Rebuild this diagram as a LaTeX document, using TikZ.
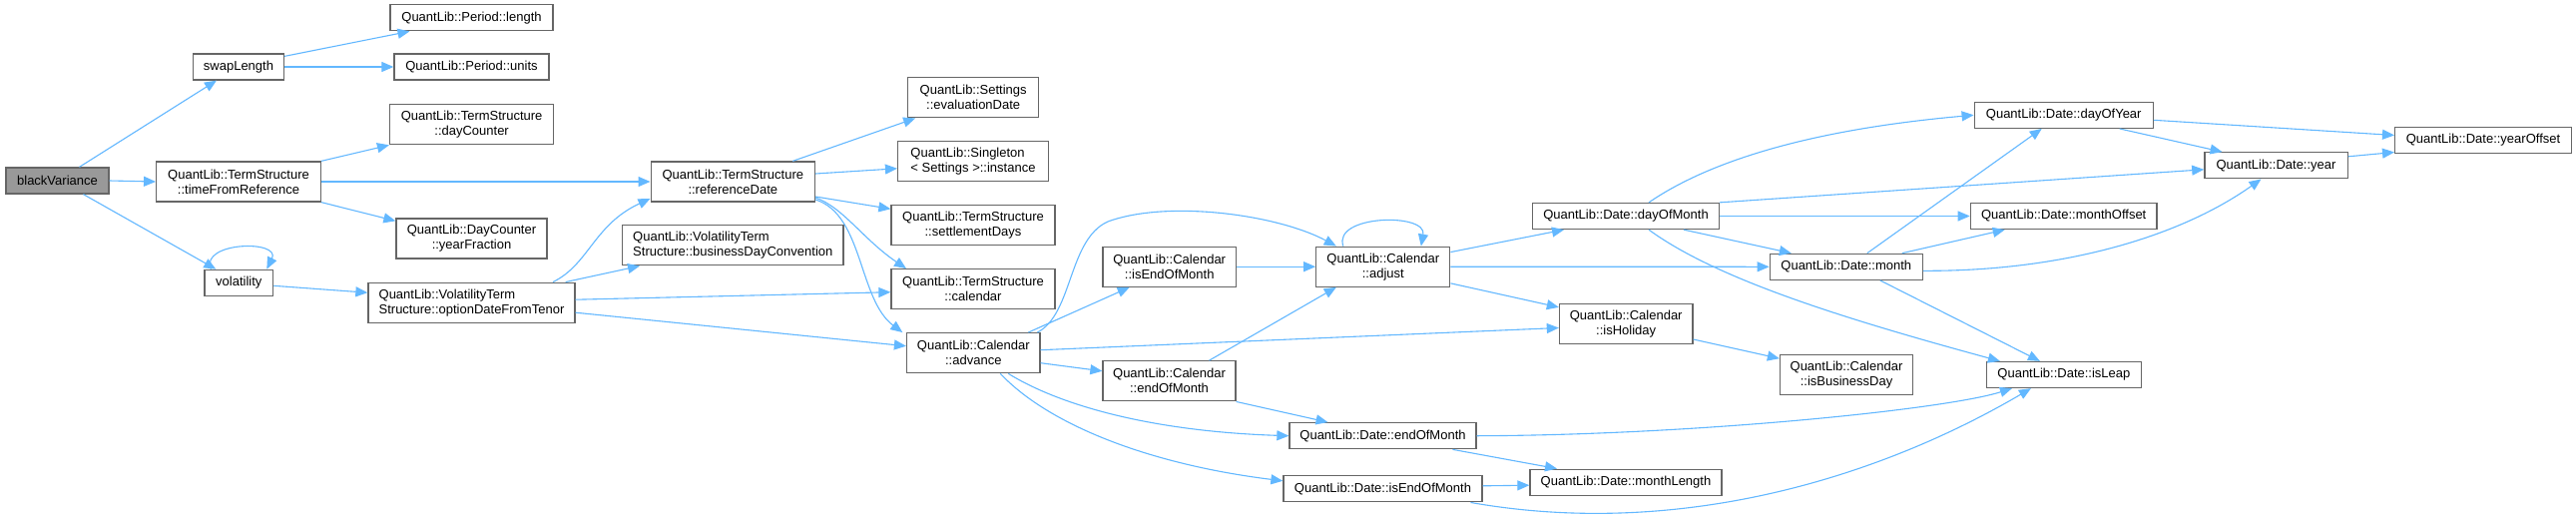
\documentclass[tikz,border=0pt]{standalone}
\usepackage{fontspec}
\setmainfont{Liberation Sans}
\usetikzlibrary{arrows.meta}
\definecolor{edgec}{HTML}{63B8FF}
\definecolor{bordc}{HTML}{666666}
\definecolor{rootc}{HTML}{999999}
\begin{document}
\begin{tikzpicture}[x=1pt,y=-1pt,
  box/.style={draw=bordc, line width=1.3pt, fill=white, inner sep=0pt, align=center,
    font=\fontsize{13}{15}\selectfont, text=black},
  one/.style={minimum height=26pt},
  two/.style={minimum height=40pt},
  e/.style={draw=edgec, line width=1.1pt, -{Triangle[length=12pt,width=10pt]}}]
\useasboundingbox[fill=white] (0,0) rectangle (2581,523);
% nodes
\node[box,one,minimum width=103pt,fill=rootc] (bv) at (57.5,181) {blackVariance};
\node[box,one,minimum width=91pt] (swap) at (239,67) {swapLength};
\node[box,one,minimum width=163pt] (plen) at (472.5,17.7) {QuantLib::Period::length};
\node[box,one,minimum width=155pt] (punits) at (472.5,67) {QuantLib::Period::units};
\node[box,two,minimum width=164pt] (dcount) at (472.6,124.7) {QuantLib::TermStructure\\::dayCounter};
\node[box,two,minimum width=164.6pt] (tfr) at (239,182) {QuantLib::TermStructure\\::timeFromReference};
\node[box,two,minimum width=151pt] (yfrac) at (472.5,239) {QuantLib::DayCounter\\::yearFraction};
\node[box,one,minimum width=68.6pt] (vol) at (239.3,283.3) {volatility};
\node[box,two,minimum width=207pt,align=left] (odft) at (472.5,303.2) {QuantLib::VolatilityTerm\\Structure::optionDateFromTenor};
\node[box,two,minimum width=164.3pt] (refd) at (734.3,182) {QuantLib::TermStructure\\::referenceDate};
\node[box,two,minimum width=221.3pt,align=left] (bdc) at (734.3,245.8) {QuantLib::VolatilityTerm\\Structure::businessDayConvention};
\node[box,two,minimum width=130.8pt] (evald) at (975.2,97.8) {QuantLib::Settings\\::evaluationDate};
\node[box,two,minimum width=150.8pt,align=left] (inst) at (975,161.8) {QuantLib::Singleton\\< Settings >::instance};
\node[box,two,minimum width=164pt] (sdays) at (975,225.8) {QuantLib::TermStructure\\::settlementDays};
\node[box,two,minimum width=164pt] (cal) at (975,289.7) {QuantLib::TermStructure\\::calendar};
\node[box,two,minimum width=133.5pt] (adv) at (975.3,353.7) {QuantLib::Calendar\\::advance};
\node[box,two,minimum width=133.4pt] (ieom) at (1171.7,267.2) {QuantLib::Calendar\\::isEndOfMonth};
\node[box,two,minimum width=133pt] (ceom) at (1171.5,381.8) {QuantLib::Calendar\\::endOfMonth};
\node[box,two,minimum width=134pt] (adj) at (1385.8,267.2) {QuantLib::Calendar\\::adjust};
\node[box,one,minimum width=186.6pt] (dom) at (1629,216.5) {QuantLib::Date::dayOfMonth};
\node[box,two,minimum width=133.5pt] (hol) at (1629.2,324.5) {QuantLib::Calendar\\::isHoliday};
\node[box,one,minimum width=187pt] (deom) at (1385.5,436.7) {QuantLib::Date::endOfMonth};
\node[box,one,minimum width=199pt] (disEom) at (1385.5,489.8) {QuantLib::Date::isEndOfMonth};
\node[box,one,minimum width=192pt] (mlen) at (1629,483.2) {QuantLib::Date::monthLength};
\node[box,one,minimum width=153pt] (month) at (1849.8,267.3) {QuantLib::Date::month};
\node[box,two,minimum width=133pt] (bday) at (1850,375.2) {QuantLib::Calendar\\::isBusinessDay};
\node[box,one,minimum width=179pt] (doy) at (2067.7,115.3) {QuantLib::Date::dayOfYear};
\node[box,one,minimum width=186.7pt] (moff) at (2067.7,216.5) {QuantLib::Date::monthOffset};
\node[box,one,minimum width=155pt] (leap) at (2067.9,375.5) {QuantLib::Date::isLeap};
\node[box,one,minimum width=143.3pt] (year) at (2280.5,165.8) {QuantLib::Date::year};
\node[box,one,minimum width=176.7pt] (yoff) at (2488,140.5) {QuantLib::Date::yearOffset};
% edges
\draw[e] ([xshift=22pt]bv.north) -- ([xshift=-22pt]swap.south);
\draw[e] (bv.east) -- (tfr.west);
\draw[e] ([xshift=26pt]bv.south) -- ([xshift=-23pt]vol.north);
\draw[e] ([yshift=-3pt]swap.north east) -- ([xshift=-62pt]plen.south);
\draw[e] (swap.east) -- (punits.west);
\draw[e] (tfr.north east) -- (dcount.south west);
\draw[e] (tfr.east) -- (refd.west);
\draw[e] (tfr.south east) -- ([yshift=-3pt]yfrac.north west);
\draw[e] ([xshift=-28pt]vol.north) .. controls (200,242) and (282,240) .. ([xshift=28pt]vol.north);
\draw[e] ([yshift=-3pt]vol.east) -- ([yshift=10pt]odft.west);
\draw[e] ([xshift=81.5pt]odft.north) .. controls (590,265) and (595,225) .. ([yshift=-17pt]refd.west);
\draw[e] ([xshift=-10pt]odft.north east) -- ([xshift=18pt]bdc.south west);
\draw[e] ([yshift=3pt]odft.east) -- ([yshift=-3pt]cal.west);
\draw[e] ([yshift=-10pt]odft.east) -- ([yshift=7pt]adv.west);
\draw[e] ([xshift=60pt]refd.north) -- ([xshift=8pt]evald.south west);
\draw[e] ([yshift=8pt]refd.east) -- ([yshift=-7pt]inst.west);
\draw[e] ([yshift=-15pt]refd.east) -- ([yshift=16.5pt]sdays.west);
\draw[e] ([yshift=-16pt]refd.east) .. controls (845,208) and (865,240) .. ([xshift=-67pt]cal.north);
\draw[e] ([yshift=-18pt]refd.east) .. controls (865,215) and (860,300) .. ([xshift=-71pt]adv.north);
\draw[e] ([xshift=55pt]adv.north) -- ([xshift=-40pt]ieom.south);
\draw[e] ([xshift=64pt]adv.north) .. controls (1075,315) and (1070,240) .. (1110,222) .. controls (1170,200) and (1280,215) .. ([xshift=-47pt]adj.north);
\draw[e] ([yshift=3pt]adv.east) -- ([yshift=-4pt]hol.west);
\draw[e] ([yshift=-10pt]adv.east) -- ([yshift=10pt]ceom.west);
\draw[e] ([xshift=35pt]adv.south) .. controls (1060,405) and (1150,432) .. (deom.west);
\draw[e] ([xshift=27pt]adv.south) .. controls (1050,425) and (1150,465) .. ([yshift=8pt]disEom.west);
\draw[e] (ieom.east) -- (adj.west);
\draw[e] ([xshift=40pt]ceom.north) -- ([xshift=-47pt]adj.south);
\draw[e] (ceom.south east) -- ([xshift=-55pt]deom.north);
\draw[e] ([xshift=-40pt]adj.north) .. controls (1335,215) and (1430,213) .. ([xshift=38pt]adj.north);
\draw[e] ([yshift=-6pt]adj.north east) -- ([xshift=-62pt]dom.south);
\draw[e] (adj.east) -- (month.west);
\draw[e] ([yshift=4pt]adj.south east) -- ([yshift=-4pt]hol.north west);
\draw[e] ([xshift=23pt]dom.north) .. controls (1700,170) and (1790,132) .. (doy.west);
\draw[e] (dom.north east) -- ([yshift=-4pt]year.west);
\draw[e] (dom.east) -- (moff.west);
\draw[e] ([xshift=58pt]dom.south) -- ([xshift=-55pt]month.north);
\draw[e] ([xshift=23pt]dom.south) .. controls (1720,280) and (1850,320) .. ([xshift=-64pt]leap.north);
\draw[e] ([xshift=21pt]month.north) -- ([xshift=-22pt]doy.south);
\draw[e] ([xshift=56pt]month.north) -- ([xshift=-59pt]moff.south);
\draw[e] ([yshift=-4pt]month.east) .. controls (2060,272) and (2180,240) .. ([xshift=-15pt]year.south);
\draw[e] ([xshift=34pt]month.south) -- ([xshift=-24pt]leap.north);
\draw[e] ([yshift=-15.5pt]hol.east) -- ([yshift=16pt]bday.west);
\draw[e] ([yshift=-5pt]doy.east) -- ([yshift=5pt]yoff.west);
\draw[e] ([xshift=56pt]doy.south) -- ([xshift=-54pt]year.north);
\draw[e] ([yshift=9pt]year.east) -- ([yshift=-12pt]yoff.west);
\draw[e] (deom.east) .. controls (1700,436) and (1950,410) .. ([xshift=-52pt]leap.south);
\draw[e] ([xshift=70pt]deom.south) -- ([xshift=-69pt]mlen.north);
\draw[e] ([yshift=3pt]disEom.east) -- ([yshift=-3pt]mlen.west);
\draw[e] ([xshift=88pt]disEom.south) .. controls (1680,540) and (1880,480) .. ([xshift=-33pt]leap.south);
\end{tikzpicture}
\end{document}
